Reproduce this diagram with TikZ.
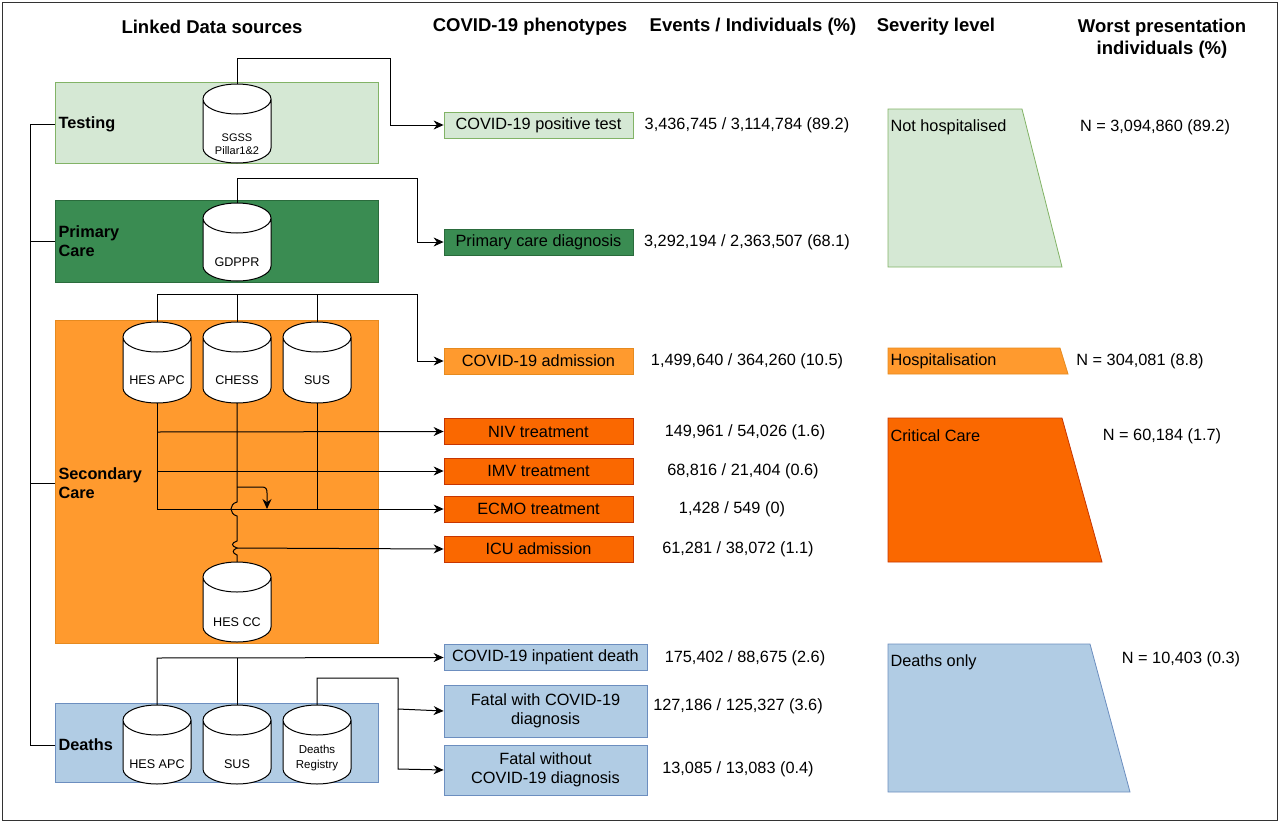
\documentclass[tikz,border=0pt]{standalone}
\usepackage{fontspec}
\setmainfont{Liberation Sans}
\usetikzlibrary{shapes.geometric,arrows.meta}
\definecolor{lg}{HTML}{D5E8D4}\definecolor{lgb}{HTML}{82B366}
\definecolor{dg}{HTML}{3A8C52}\definecolor{dgb}{HTML}{2A6B3C}
\definecolor{or}{HTML}{FF9A2E}\definecolor{orb}{HTML}{E68A1F}
\definecolor{do}{HTML}{FA6800}\definecolor{dob}{HTML}{C73500}
\definecolor{bl}{HTML}{B1CCE4}\definecolor{blb}{HTML}{6C8EBF}
\newcommand\dcyl[4]{%
  \node[minimum width=68pt,minimum height={#4-#3},inner sep=0pt] (#1) at (#2,{(#3+#4)/2}) {};
  \draw[line width=1pt,fill=white] (#2-34,#3+15) -- (#2-34,#4-15) arc[start angle=180,end angle=0,x radius=34,y radius=15] -- (#2+34,#3+15) arc[start angle=0,end angle=-180,x radius=34,y radius=15] arc[start angle=180,end angle=0,x radius=34,y radius=15];}
\begin{document}
\begin{tikzpicture}[x=1pt,y=-1pt,
  hdr/.style={font=\fontsize{18.5}{22}\selectfont\bfseries,align=center},
  txt/.style={font=\fontsize{16.3}{19}\selectfont},
  lbl/.style={font=\fontsize{16.3}{19}\selectfont\bfseries,anchor=west,align=left},
  src/.style={draw=#1,line width=0.8pt},
  ct/.style={font=\fontsize{12.6}{14}\selectfont,align=center},
  ph/.style={draw=#1,line width=0.8pt,minimum width=189pt,minimum height=26pt,inner sep=0pt,align=center,font=\fontsize{16.3}{19}\selectfont},
  ln/.style={line width=1pt},
  ar/.style={ln,-{Stealth[length=10pt,width=9pt]}}]
\useasboundingbox (0,0) rectangle (1280,822);
\node[draw=black!80,line width=0.6pt,minimum width=1275pt,minimum height=818pt,inner sep=0] (frame) at (640,411) {};
% headers
\node[hdr] (h1) at (212,27) {Linked Data sources};
\node[hdr] (h2) at (530,27) {COVID-19 phenotypes};
\node[hdr] (h3) at (753,27) {Events / Individuals (\%)};
\node[hdr] (h4) at (936,27) {Severity level};
\node[hdr] (h5) at (1162,39) {Worst presentation\\individuals (\%)};
% source boxes
\node[src=lgb,fill=lg,minimum width=323pt,minimum height=81pt,inner sep=0] (bt) at (216.5,122.5) {};
\node[src=dgb,fill=dg,minimum width=323pt,minimum height=82pt,inner sep=0] (bp) at (216.5,241) {};
\node[src=orb,fill=or,minimum width=323pt,minimum height=323pt,inner sep=0] (bs) at (216.5,481.5) {};
\node[src=blb,fill=bl,minimum width=323pt,minimum height=79pt,inner sep=0] (bd) at (216.5,742.5) {};
\node[lbl] (lt) at (55,124) {Testing};
\node[lbl] (lp) at (55,241) {Primary\\Care};
\node[lbl] (ls) at (55,483) {Secondary\\Care};
\node[lbl] (ld) at (55,745) {Deaths};
% cylinders
\dcyl{sgss}{237}{84}{163}
\node[ct,font=\fontsize{11}{13}\selectfont] (sgsst) at (237,144) {SGSS\\Pillar1\&2};
\dcyl{gdppr}{237}{203}{281}
\node[ct] (gdpprt) at (237,262) {GDPPR};
\dcyl{hesapc}{157}{322}{403}
\node[ct] (hesapct) at (157,380) {HES APC};
\dcyl{chess}{237}{322}{403}
\node[ct] (chesst) at (237,380) {CHESS};
\dcyl{sus}{317}{322}{403}
\node[ct] (sust) at (317,380) {SUS};
\dcyl{hescc}{237}{562}{642}
\node[ct] (hescct) at (237,622) {HES CC};
\dcyl{dhes}{157}{705}{784}
\node[ct] (dhest) at (157,764) {HES APC};
\dcyl{dsus}{237}{705}{784}
\node[ct] (dsust) at (237,764) {SUS};
\dcyl{dreg}{317}{705}{784}
\node[ct,font=\fontsize{11.5}{15}\selectfont] (dregt) at (317,758) {Deaths\\Registry};
% phenotypes
\node[ph=lgb,fill=lg] (p1) at (538.5,125) {COVID-19 positive test};
\node[ph=dgb,fill=dg] (p2) at (538.5,242) {Primary care diagnosis};
\node[ph=orb,fill=or] (p3) at (538.5,361) {COVID-19 admission};
\node[ph=dob,fill=do] (p4) at (538.5,431.5) {NIV treatment};
\node[ph=dob,fill=do] (p5) at (538.5,471) {IMV treatment};
\node[ph=dob,fill=do] (p6) at (538.5,509) {ECMO treatment};
\node[ph=dob,fill=do] (p7) at (538.5,549) {ICU admission};
\node[ph=blb,fill=bl,minimum width=203pt] (p8) at (545.5,657.5) {COVID-19 inpatient death};
\node[ph=blb,fill=bl,minimum width=203pt,minimum height=52pt] (p9) at (545.5,711) {Fatal with COVID-19\\diagnosis};
\node[ph=blb,fill=bl,minimum width=203pt,minimum height=50pt] (p10) at (545.5,770) {Fatal without\\COVID-19 diagnosis};
% events
\node[txt] (e1) at (747,125) {3,436,745 / 3,114,784 (89.2)};
\node[txt] (e2) at (747,242) {3,292,194 / 2,363,507 (68.1)};
\node[txt] (e3) at (747,361) {1,499,640 / 364,260 (10.5)};
\node[txt] (e4) at (745,432) {149,961 / 54,026 (1.6)};
\node[txt] (e5) at (743,471) {68,816 / 21,404 (0.6)};
\node[txt] (e6) at (732,509) {1,428 / 549 (0)};
\node[txt] (e7) at (738,549) {61,281 / 38,072 (1.1)};
\node[txt] (e8) at (745,658) {175,402 / 88,675 (2.6)};
\node[txt] (e9) at (738,706) {127,186 / 125,327 (3.6)};
\node[txt] (e10) at (738,769) {13,085 / 13,083 (0.4)};
% severity
\draw[draw=lgb,fill=lg,line width=0.8pt] (888,109) -- (1022,109) -- (1062,267) -- (888,267) -- cycle;
\draw[draw=orb,fill=or,line width=0.8pt] (888,348) -- (1060,348) -- (1068,374) -- (888,374) -- cycle;
\draw[draw=dob,fill=do,line width=0.8pt] (888,418) -- (1062,418) -- (1102,562) -- (888,562) -- cycle;
\draw[draw=blb,fill=bl,line width=0.8pt] (888,644) -- (1090,644) -- (1130,792) -- (888,792) -- cycle;
\node[txt,anchor=west] (s1) at (887,127) {Not hospitalised};
\node[txt,anchor=west] (s2) at (887,361) {Hospitalisation};
\node[txt,anchor=west] (s3) at (887,436) {Critical Care};
\node[txt,anchor=west] (s4) at (887,662) {Deaths only};
% worst
\node[txt] (w1) at (1155,127) {N = 3,094,860 (89.2)};
\node[txt] (w2) at (1140,361) {N = 304,081 (8.8)};
\node[txt] (w3) at (1162,436) {N = 60,184 (1.7)};
\node[txt] (w4) at (1181,659) {N = 10,403 (0.3)};
% left bracket
\draw[ln] (bt.west |- lt) -- (30,124) -- (30,745) -- (bd.west |- ld);
\draw[ln] (30,241) -- (bp.west |- lp);
\draw[ln] (30,483) -- (bs.west |- ls);
% connectors
\draw[ar] (sgss.north) -- (237,58) -- (390,58) -- (390,125) -- (p1.west);
\draw[ar] (gdppr.north) -- (237,178) -- (417,178) -- (417,242) -- (p2.west);
\draw[ar] (hesapc.north) -- (157,294) -- (417,294) -- (417,361) -- (p3.west);
\draw[ln] (chess.north) -- (237,294);
\draw[ln] (sus.north) -- (317,294);
\draw[ln] (hesapc.south) -- (157,509);
\draw[ln] (sus.south) -- (317,509);
\draw[ar] (157,432) -- (p4.west);
\draw[ar] (157,471) -- (p5.west);
\draw[ar] (157,509) -- (p6.west);
\draw[ln] (chess.south) -- (237,502) .. controls (229,504) and (229,514) .. (237,516) -- (237,541) .. controls (231,543) and (231,546) .. (237,548) .. controls (232,550) and (232,553) .. (237,555) -- (hescc.north);
\draw[ar] (237,548) -- (p7.west);
\draw[ar] (237,487) -- (262,487) .. controls (266,487) and (267,489) .. (267,493) -- (267,509);
\draw[ar] (dhes.north) -- (157,658) -- (p8.west);
\draw[ln] (dsus.north) -- (237,658);
\draw[ar] (dreg.north) -- (317,678) -- (398,678) -- (398,709) -- (p9.west);
\draw[ar] (398,709) -- (398,769) -- (p10.west);
\end{tikzpicture}
\end{document}
